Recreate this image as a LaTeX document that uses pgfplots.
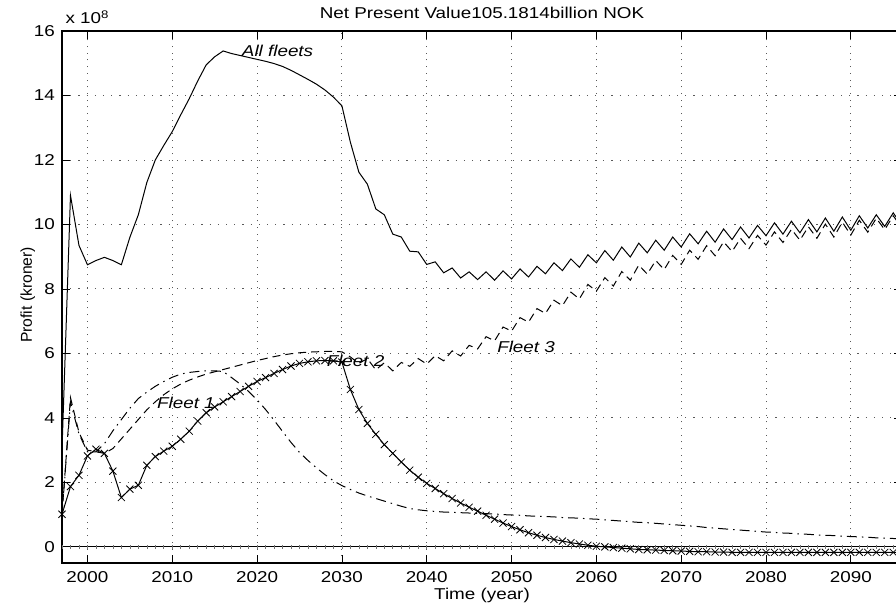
\documentclass[border=0pt]{standalone}
\usepackage{fontspec}
\setmainfont{Liberation Sans}[FakeStretch=1.2]
\newfontfamily\ylfont{Liberation Sans}
\usepackage{pgfplots}
\usepackage{pgfplotstable}
\pgfplotsset{compat=1.18}

\pgfplotstableread{
year all f1 f2 f3 z
1997 3.0 1.0 1.01 1.0 0
1998 10.9 4.5 1.87 4.63 0
1999 9.35 3.5 2.22 3.55 0
2000 8.75 2.95 2.82 3.0 0
2001 8.88 2.95 3.03 2.95 0
2002 8.98 3.2 2.9 2.9 0
2003 8.88 3.6 2.35 3.05 0
2004 8.75 3.95 1.53 3.35 0
2005 9.6 4.3 1.79 3.65 0
2006 10.3 4.6 1.91 3.95 0
2007 11.3 4.8 2.53 4.25 0
2008 12.0 4.98 2.8 4.5 0
2009 12.45 5.13 2.97 4.72 0
2010 12.88 5.26 3.12 4.9 0
2011 13.4 5.36 3.34 5.05 0
2012 13.9 5.41 3.59 5.17 0
2013 14.45 5.44 3.9 5.27 0
2014 14.95 5.46 4.16 5.36 0
2015 15.2 5.46 4.34 5.43 0
2016 15.38 5.44 4.5 5.5 0
2017 15.3 5.25 4.66 5.57 0
2018 15.24 5.05 4.82 5.64 0
2019 15.18 4.82 4.98 5.71 0
2020 15.12 4.56 5.13 5.78 0
2021 15.06 4.26 5.25 5.84 0
2022 14.99 3.93 5.38 5.9 0
2023 14.9 3.58 5.5 5.95 0
2024 14.78 3.24 5.61 5.99 0
2025 14.64 2.93 5.69 6.02 0
2026 14.5 2.68 5.74 6.04 0
2027 14.35 2.45 5.77 6.05 0
2028 14.17 2.24 5.78 6.06 0
2029 13.95 2.05 5.77 6.06 0
2030 13.68 1.9 5.73 6.05 0
2031 12.55 1.78 4.88 5.89 0
2032 11.62 1.67 4.26 5.69 0
2033 11.25 1.58 3.83 5.84 0
2034 10.48 1.5 3.49 5.49 0
2035 10.3 1.42 3.17 5.71 0
2036 9.7 1.34 2.9 5.46 0
2037 9.61 1.26 2.63 5.72 0
2038 9.17 1.19 2.38 5.6 0
2039 9.15 1.15 2.16 5.84 0
2040 8.76 1.12 1.97 5.67 0
2041 8.84 1.1 1.81 5.93 0
2042 8.5 1.08 1.65 5.77 0
2043 8.65 1.07 1.5 6.08 0
2044 8.34 1.06 1.36 5.92 0
2045 8.53 1.05 1.23 6.25 0
2046 8.29 1.04 1.11 6.14 0
2047 8.53 1.03 0.98 6.52 0
2048 8.27 1.02 0.86 6.39 0
2049 8.56 1.0 0.74 6.82 0
2050 8.31 0.99 0.63 6.69 0
2051 8.62 0.98 0.53 7.11 0
2052 8.37 0.96 0.44 6.97 0
2053 8.7 0.95 0.36 7.39 0
2054 8.47 0.94 0.29 7.24 0
2055 8.81 0.93 0.23 7.65 0
2056 8.57 0.91 0.18 7.48 0
2057 8.93 0.9 0.13 7.9 0
2058 8.67 0.89 0.09 7.69 0
2059 9.06 0.87 0.05 8.14 0
2060 8.81 0.86 0.02 7.93 0
2061 9.19 0.84 0.0 8.35 0
2062 8.89 0.82 -0.02 8.09 0
2063 9.3 0.8 -0.04 8.54 0
2064 8.99 0.78 -0.06 8.27 0
2065 9.42 0.76 -0.08 8.74 0
2066 9.12 0.75 -0.09 8.46 0
2067 9.51 0.73 -0.1 8.88 0
2068 9.2 0.71 -0.11 8.6 0
2069 9.61 0.69 -0.12 9.04 0
2070 9.3 0.67 -0.13 8.76 0
2071 9.71 0.65 -0.14 9.2 0
2072 9.4 0.63 -0.15 8.92 0
2073 9.79 0.6 -0.15 9.34 0
2074 9.45 0.58 -0.16 9.03 0
2075 9.86 0.56 -0.16 9.46 0
2076 9.53 0.54 -0.17 9.16 0
2077 9.92 0.52 -0.17 9.57 0
2078 9.58 0.5 -0.17 9.25 0
2079 9.97 0.48 -0.17 9.66 0
2080 9.65 0.46 -0.17 9.36 0
2081 10.05 0.45 -0.17 9.77 0
2082 9.7 0.43 -0.17 9.44 0
2083 10.1 0.42 -0.17 9.85 0
2084 9.74 0.4 -0.17 9.51 0
2085 10.15 0.39 -0.17 9.93 0
2086 9.77 0.37 -0.17 9.57 0
2087 10.2 0.36 -0.17 10.01 0
2088 9.79 0.35 -0.17 9.61 0
2089 10.23 0.33 -0.17 10.07 0
2090 9.82 0.32 -0.17 9.67 0
2091 10.27 0.31 -0.17 10.13 0
2092 9.89 0.3 -0.17 9.76 0
2093 10.3 0.28 -0.17 10.19 0
2094 9.94 0.27 -0.17 9.84 0
2095 10.36 0.26 -0.17 10.27 0
2096 9.98 0.25 -0.17 9.9 0
}\data

\begin{document}
\begin{tikzpicture}
\begin{axis}[
  scale only axis, width=839.7pt, height=532pt,
  xmin=1997, xmax=2096, ymin=-0.5, ymax=16,
  xtick={2000,2010,2020,2030,2040,2050,2060,2070,2080,2090},
  xticklabels={2000,2010,2020,2030,2040,2050,2060,2070,2080,2090},
  ytick={0,2,4,6,8,10,12,14,16},
  yticklabels={0,2,4,6,8,10,12,14,16},
  tick align=inside, major tick length=8pt,
  tick style={black, line width=0.8pt},
  grid=major,
  major x grid style={black!65, line width=0.9pt, dash pattern=on 1pt off 5.7pt},
  major y grid style={black!65, line width=0.9pt, dash pattern=on 1.2pt off 7pt},
  axis line style={black, line width=1.6pt},
  ticklabel style={font=\fontsize{15.7}{18}\selectfont},
  xticklabel style={anchor=base, yshift=-19.3pt},
  yticklabel style={anchor=east, inner sep=0pt, xshift=-7pt},
  clip=true,
]
\coordinate (SW) at (rel axis cs:0,0);
\coordinate (NW) at (rel axis cs:0,1);
% zero line
\addplot[black, line width=1pt, mark=|, mark size=1.8pt, mark options={black!55, solid, line width=0.6pt}] table[x=year, y=z] {\data};
% All fleets
\addplot[black, line width=1pt, no marks] table[x=year, y=all] {\data};
% Fleet 1 dash-dot
\addplot[black, line width=1pt, no marks, dash pattern=on 10pt off 5pt on 1.5pt off 5pt] table[x=year, y=f1] {\data};
% Fleet 3 dashed
\addplot[black, line width=1pt, no marks, dash pattern=on 8pt off 5pt] table[x=year, y=f3] {\data};
% Fleet 2 with x markers
\addplot[black, line width=1pt, mark=x, mark size=5pt, mark options={solid, line width=0.8pt}] table[x=year, y=f2] {\data};

\node[anchor=base west, font=\itshape\fontsize{15.7}{18}\selectfont] at (axis cs:2017.8,15.21) {All fleets};
\node[anchor=base west, font=\itshape\fontsize{15.7}{18}\selectfont] at (axis cs:2007.8,4.29) {Fleet 1};
\node[anchor=base west, font=\itshape\fontsize{15.7}{18}\selectfont] at (axis cs:2027.8,5.58) {Fleet 2};
\node[anchor=base west, font=\itshape\fontsize{15.7}{18}\selectfont] at (axis cs:2047.9,6.02) {Fleet 3};
\end{axis}
\node[anchor=base, font=\fontsize{15.7}{18}\selectfont] at ([xshift=420pt,yshift=12.7pt]NW) {Net Present Value105.1814billion NOK};
\node[anchor=base west, font=\fontsize{15.7}{18}\selectfont] at ([yshift=7pt]NW) {x 10\textsuperscript{8}};
\node[anchor=base, font=\fontsize{15.7}{18}\selectfont] at ([xshift=420pt,yshift=-37pt]SW) {Time (year)};
\node[anchor=base, rotate=90, font=\ylfont\fontsize{15.7}{18}\selectfont] at ([xshift=-30pt,yshift=268pt]SW) {Profit (kroner)};
\pgfresetboundingbox
\path[use as bounding box] ([xshift=-62pt,yshift=-46pt]SW) rectangle ([xshift=834pt,yshift=31pt]NW);
\end{tikzpicture}
\end{document}
